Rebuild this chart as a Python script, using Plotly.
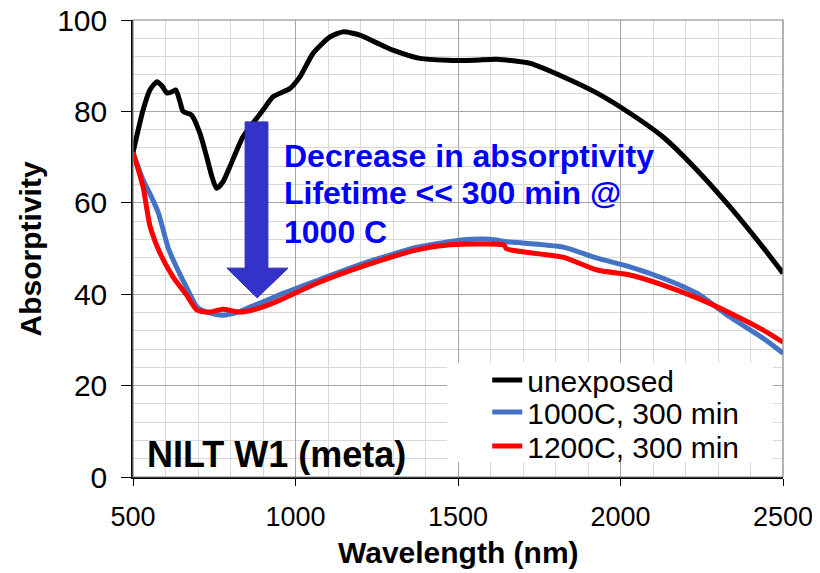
import plotly.graph_objects as go

# ---- data ----
wl_unexposed = [500, 531, 552, 574, 590, 605, 620, 632, 645, 654, 680, 706, 727, 743, 757, 777, 798, 838,
                870, 900, 931, 983, 1014, 1054, 1106, 1146, 1198, 1250, 1300, 1383, 1466, 1550, 1620,
                1722, 1823, 1928, 2029, 2131, 2235, 2337, 2438, 2500]
a_unexposed = [71, 80.3, 84.7, 86.5, 85.5, 84, 84.3, 84.7, 82, 80, 79.2, 75.2, 70, 65.7, 63.2, 64.6, 67.9, 74.4,
               77.5, 80.3, 83.2, 85, 87.6, 92.7, 96.3, 97.4, 96.7, 95, 93.4, 91.6, 91.2, 91.2, 91.4,
               90.5, 87.6, 84, 79.6, 74.4, 67.2, 59.1, 50.3, 44.6]

wl_1000 = [500, 531, 552, 578, 609, 630, 654, 675, 697, 730, 777, 820, 860, 910, 962, 1066, 1220, 1374,
           1414, 1517, 1600, 1650, 1823, 1928, 2029, 2131, 2235, 2337, 2438, 2500]
a_1000 = [71, 65, 62, 57.8, 50, 46.5, 43, 40, 37.2, 36, 35.4, 36, 37.2, 38.6, 40.2, 43, 47, 50.3,
          50.8, 51.9, 52, 51.5, 50.3, 47.9, 46, 43.5, 40.2, 35, 30.4, 27.1]

wl_1200 = [500, 531, 552, 583, 623, 665, 697, 737, 777, 829, 891, 952, 1066, 1220, 1374, 1475, 1560,
           1640, 1650, 1823, 1928, 2029, 2131, 2235, 2337, 2438, 2500]
a_1200 = [71, 63.5, 55, 49, 43.8, 39.8, 36.5, 36.1, 36.7, 36.1, 37, 38.7, 42.4, 46.4, 49.7, 50.8, 51,
          50.8, 49.9, 48.1, 45.3, 44.2, 42, 39.2, 35.9, 32.2, 29.5]

series_names = ["unexposed", "1000C, 300 min", "1200C, 300 min"]
series_colors = ["#000000", "#4472C4", "#FF0000"]

x_ticks = [500, 1000, 1500, 2000, 2500]
y_ticks = [0, 20, 40, 60, 80, 100]

FONT = "Arial, Liberation Sans, sans-serif"

fig = go.Figure()
legend_ids = ["legend", "legend2", "legend3"]
for wl, a, name, col, lg in zip([wl_unexposed, wl_1000, wl_1200], [a_unexposed, a_1000, a_1200],
                                series_names, series_colors, legend_ids):
    fig.add_trace(go.Scatter(x=wl, y=a, mode="lines", name=name, legend=lg,
                             line=dict(color=col, width=5, shape="spline", smoothing=0.6)))

# white box behind legend (covers gridlines)
fig.add_shape(type="rect", xref="x", yref="y", x0=1466, x1=2469, y0=3.3, y1=25,
              fillcolor="white", line=dict(width=0), layer="above")

# block arrow
arrow_path = ("M 845 77.7 L 915 77.7 L 915 45.7 L 977 45.7 L 882 39.2 "
              "L 789 45.7 L 845 45.7 Z")
fig.add_shape(type="path", xref="x", yref="y", path=arrow_path,
              fillcolor="#3333CC", line=dict(color="#2B2BA8", width=1), layer="above")

# blue annotation text
for txt, yv in [("Decrease in absorptivity", 70.35), ("Lifetime << 300 min @", 62.25), ("1000 C", 53.7)]:
    fig.add_annotation(x=959, y=yv, xref="x", yref="y", text="<b>" + txt.replace("<", "&lt;") + "</b>",
                       showarrow=False, xanchor="left", yanchor="middle",
                       font=dict(family=FONT, size=32, color="#0000FF"))

fig.add_annotation(x=0.019, y=0.05, xref="paper", yref="paper", text="<b>NILT W1 (meta)</b>",
                   showarrow=False, xanchor="left", yanchor="middle",
                   font=dict(family=FONT, size=36, color="#000000"))

# axis titles
fig.add_annotation(x=0.5, y=-0.166, xref="paper", yref="paper", text="<b>Wavelength (nm)</b>",
                   showarrow=False, xanchor="center", yanchor="middle",
                   font=dict(family=FONT, size=30, color="#000000"))
fig.add_annotation(x=-0.157, y=0.5, xref="paper", yref="paper", text="<b>Absorptivity</b>",
                   showarrow=False, xanchor="center", yanchor="middle", textangle=-90,
                   font=dict(family=FONT, size=30, color="#000000"))

leg_common = dict(xanchor="left", yanchor="middle", bgcolor="rgba(0,0,0,0)",
                  font=dict(family=FONT, size=30, color="#000000"), borderwidth=0)
fig.update_layout(
    width=812, height=565,
    margin=dict(l=125, r=37, t=12, b=96),
    paper_bgcolor="white", plot_bgcolor="white",
    font=dict(family=FONT, size=30, color="#000000"),
    showlegend=True,
    legend=dict(x=0.545, y=0.2123, **leg_common),
    legend2=dict(x=0.545, y=0.1422, **leg_common),
    legend3=dict(x=0.545, y=0.0678, **leg_common),
    xaxis=dict(range=[500, 2500], tickvals=x_ticks, ticks="outside", ticklen=7, tickcolor="#000000",
               showline=True, linecolor="#000000", linewidth=1.5, mirror=False, automargin=False,
               showgrid=True, gridcolor="#A6A6A6", gridwidth=1.2, zeroline=False, ticklabelstandoff=8,
               ticklabeloverflow="allow",
               minor=dict(dtick=100, showgrid=True, gridcolor="#D9D9D9", gridwidth=1, ticks=""),
               tickfont=dict(family=FONT, size=27)),
    yaxis=dict(range=[0, 100], tickvals=y_ticks, ticks="outside", ticklen=10, tickcolor="#000000",
               showline=True, linecolor="#000000", linewidth=1.5, automargin=False,
               showgrid=True, gridcolor="#A6A6A6", gridwidth=1.2, zeroline=False, ticklabelstandoff=8,
               ticklabeloverflow="allow",
               minor=dict(dtick=4, showgrid=True, gridcolor="#D9D9D9", gridwidth=1, ticks=""),
               tickfont=dict(family=FONT, size=30)),
)

# plot border (top and right)
fig.add_shape(type="rect", xref="paper", yref="paper", x0=0, x1=1, y0=0, y1=1,
              line=dict(color="#808080", width=1.2), layer="above")

fig.write_html("out.html")
